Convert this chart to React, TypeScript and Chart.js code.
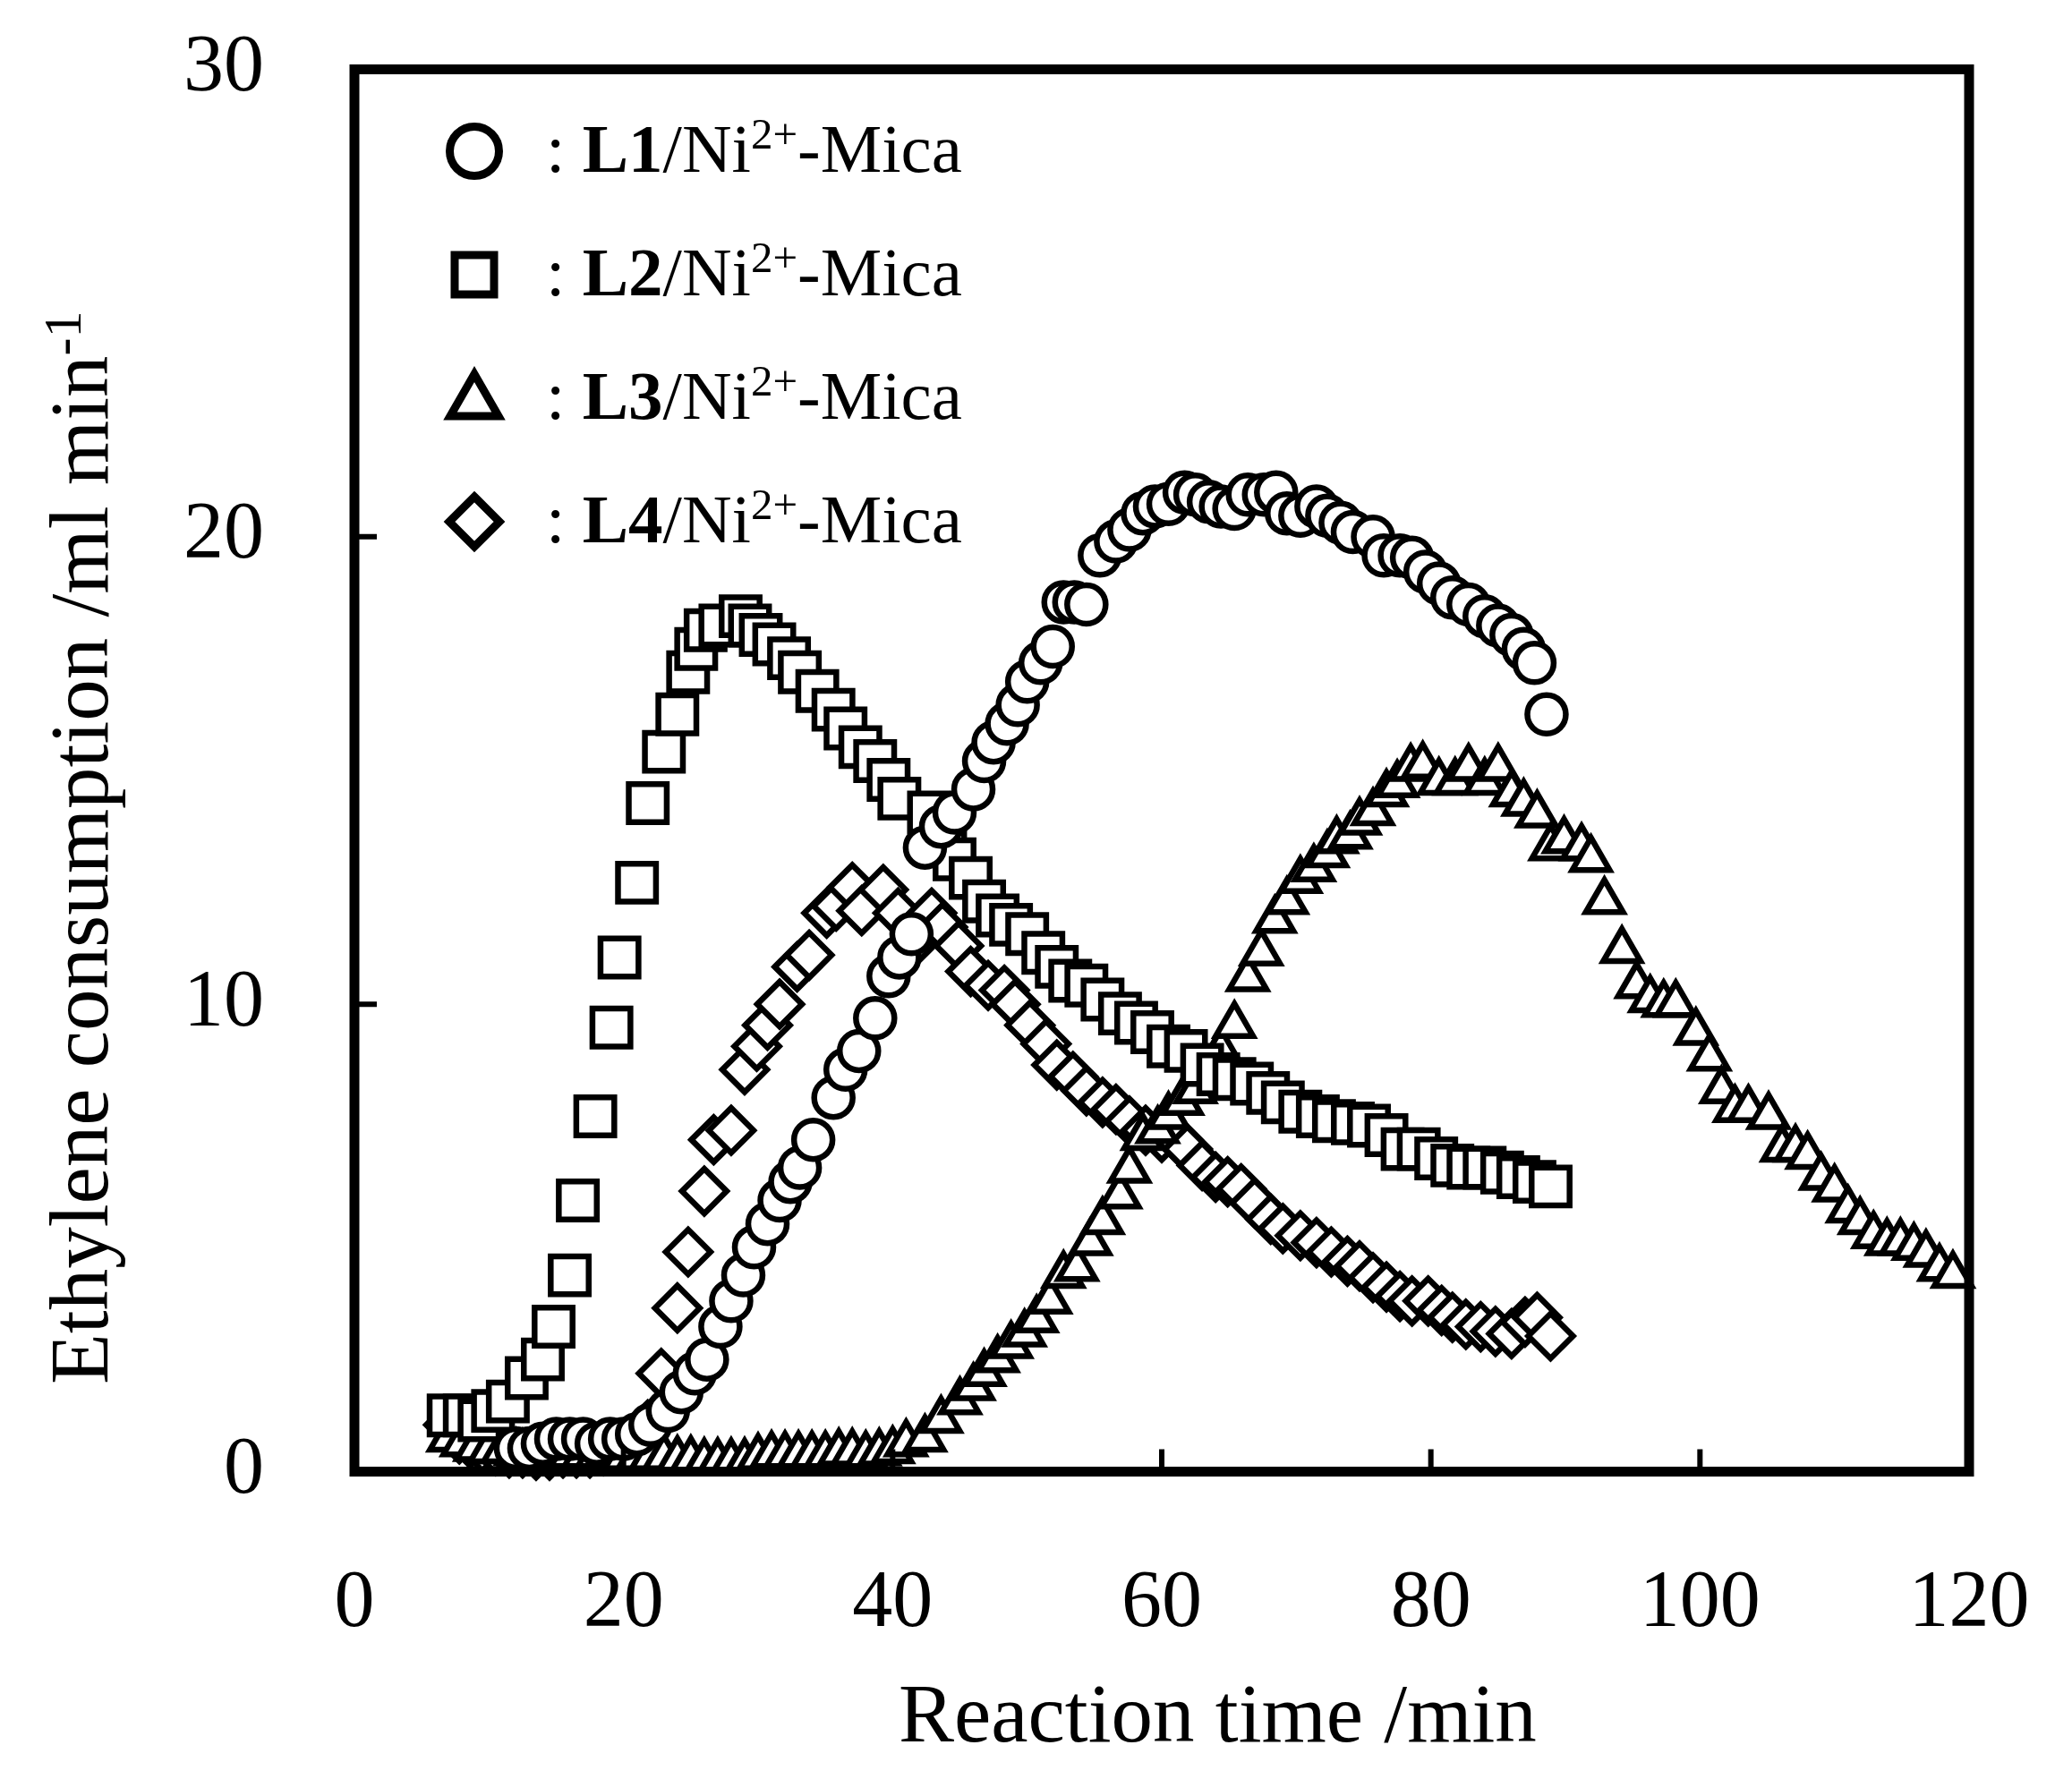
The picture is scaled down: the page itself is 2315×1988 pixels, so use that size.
import { useEffect, useRef } from 'react';
import { Chart, registerables } from 'chart.js';

Chart.register(...registerables);

// [reaction time (min), ethylene consumption (ml/min)]
const L1_DATA: [number, number][] = [
  [12, 0.5], [13, 0.5], [14, 0.6], [15, 0.7], [16, 0.7], [17, 0.7], [18, 0.6], [19, 0.7],
  [20, 0.7], [21, 0.8], [22, 1.0], [23.3, 1.3], [24.3, 1.7], [25.3, 2.1], [26.2, 2.4],
  [27.2, 3.1], [28.0, 3.65], [28.9, 4.2], [29.7, 4.8], [30.7, 5.3], [31.6, 5.8], [32.4, 6.2],
  [33.1, 6.5], [34.1, 7.1], [35.6, 8.0], [36.5, 8.6], [37.5, 9.0], [38.7, 9.7], [39.7, 10.6],
  [40.5, 11.0], [41.4, 11.5], [42.4, 13.35], [43.6, 13.8], [44.6, 14.1], [46.0, 14.6],
  [46.8, 15.2], [47.5, 15.6], [48.5, 16.0], [49.3, 16.4], [50.0, 16.9], [51.0, 17.3],
  [51.9, 17.65], [52.7, 18.6], [53.5, 18.6], [54.4, 18.55], [55.4, 19.6], [56.6, 19.9],
  [57.6, 20.15], [58.6, 20.5], [59.5, 20.65], [60.5, 20.7], [61.7, 20.95], [62.5, 20.9],
  [63.5, 20.75], [64.4, 20.65], [65.4, 20.6], [66.4, 20.9], [67.6, 20.9], [68.5, 20.95],
  [69.3, 20.5], [70.3, 20.45], [71.5, 20.65], [72.3, 20.45], [73.3, 20.3], [74.2, 20.1],
  [75.7, 20.0], [76.5, 19.6], [77.7, 19.6], [78.6, 19.55], [79.6, 19.25], [80.6, 19.0],
  [81.6, 18.7], [82.8, 18.55], [84.0, 18.3], [85.0, 18.1], [86.0, 17.9], [86.9, 17.6],
  [87.7, 17.3], [88.6, 16.2],
];

const L2_DATA: [number, number][] = [
  [7.0, 1.2], [8.2, 1.2], [9.3, 1.1], [10.3, 1.3], [11.4, 1.5], [12.8, 2.0], [14.0, 2.4],
  [14.8, 3.1], [16.0, 4.2], [16.6, 5.8], [17.9, 7.6], [19.1, 9.5], [19.7, 11.0], [21.0, 12.6],
  [21.8, 14.3], [23.0, 15.4], [24.0, 16.2], [24.8, 17.1], [25.4, 17.6], [26.1, 18.0],
  [27.2, 18.1], [28.7, 18.3], [29.4, 18.1], [30.2, 17.9], [31.2, 17.7], [32.3, 17.4],
  [33.1, 17.1], [34.4, 16.7], [35.6, 16.3], [36.5, 15.9], [37.6, 15.5], [38.7, 15.2],
  [39.7, 14.8], [40.5, 14.4], [42.7, 14.1], [43.9, 13.4], [44.6, 13.1], [45.8, 12.7],
  [46.8, 12.2], [47.8, 11.9], [48.8, 11.7], [50.0, 11.5], [51.2, 11.1], [52.2, 10.8],
  [53.2, 10.5], [54.4, 10.4], [55.6, 10.1], [56.9, 9.8], [58.1, 9.6], [59.3, 9.4],
  [60.5, 9.1], [61.8, 9.0], [63.0, 8.7], [64.2, 8.5], [65.4, 8.4], [66.7, 8.3], [67.9, 8.1],
  [69.0, 7.9], [70.3, 7.7], [71.6, 7.6], [72.8, 7.5], [74.2, 7.45], [75.4, 7.4], [76.7, 7.2],
  [77.9, 6.9], [79.1, 6.9], [80.4, 6.7], [81.6, 6.55], [82.8, 6.5], [84.0, 6.5], [85.3, 6.4],
  [86.5, 6.3], [87.7, 6.2], [88.9, 6.1],
];

const L3_DATA: [number, number][] = [
  [7, 0.7], [8, 0.6], [9, 0.5], [10, 0.45], [11, 0.45], [12, 0.4], [13, 0.35], [14, 0.35],
  [15, 0.35], [16, 0.35], [17, 0.35], [18, 0.35], [19, 0.35], [20, 0.3], [21, 0.3], [22, 0.3],
  [23, 0.3], [24, 0.25], [25, 0.25], [26, 0.2], [27, 0.2], [28, 0.2], [29, 0.2], [30, 0.3],
  [31, 0.35], [32, 0.35], [33, 0.35], [34, 0.35], [35, 0.35], [36, 0.4], [37, 0.4], [38, 0.35],
  [39, 0.4], [40, 0.45], [41, 0.6], [42.4, 0.7], [43.6, 1.1], [45.0, 1.5], [46.0, 1.8],
  [46.8, 2.1], [47.8, 2.4], [48.8, 2.7], [49.8, 2.95], [50.7, 3.25], [51.7, 3.65], [52.7, 4.2],
  [53.7, 4.35], [54.7, 4.9], [55.6, 5.35], [56.9, 5.9], [57.6, 6.45], [58.6, 7.15],
  [59.7, 7.3], [60.5, 7.6], [61.5, 7.9], [62.5, 8.15], [64.4, 9.0], [65.4, 9.55], [66.4, 10.55],
  [67.4, 11.1], [68.4, 11.8], [69.3, 12.2], [70.3, 12.65], [71.3, 12.9], [72.3, 13.2],
  [73.0, 13.5], [74.0, 13.6], [74.7, 13.9], [75.7, 14.1], [76.7, 14.5], [77.5, 14.7],
  [78.5, 15.05], [79.4, 15.1], [80.6, 14.75], [81.8, 14.75], [82.8, 15.05], [84.0, 14.75],
  [85.0, 15.05], [86.0, 14.5], [86.9, 14.3], [87.9, 14.05], [88.9, 13.35], [89.9, 13.5],
  [91.2, 13.35], [91.9, 13.1], [92.9, 12.2], [94.2, 11.15], [95.3, 10.4], [96.3, 10.1],
  [97.3, 10.0], [98.2, 10.0], [99.7, 9.4], [100.7, 8.85], [101.6, 8.15], [102.6, 7.75],
  [103.6, 7.75], [105.1, 7.6], [106.1, 6.9], [107.1, 6.9], [108.0, 6.75], [109.0, 6.3],
  [110.0, 6.05], [111.0, 5.6], [111.9, 5.35], [112.9, 5.05], [113.9, 4.9], [114.9, 4.9],
  [115.9, 4.8], [116.8, 4.65], [117.8, 4.35], [118.8, 4.2],
];

const L4_DATA: [number, number][] = [
  [7, 1.0], [7.8, 0.7], [8.6, 0.6], [9.5, 0.5], [10.5, 0.45], [11.5, 0.4], [12.5, 0.4],
  [13.5, 0.35], [14.5, 0.35], [15.5, 0.4], [16.5, 0.4], [17.5, 0.4], [18.5, 0.45], [19.5, 0.5],
  [20.4, 0.55], [21.8, 1.0], [22.8, 2.1], [24.0, 3.5], [24.8, 4.7], [26.0, 6.0], [26.7, 7.1],
  [28.0, 7.3], [29.0, 8.6], [29.9, 9.1], [30.7, 9.55], [31.6, 10.0], [32.9, 10.8],
  [33.8, 11.05], [35.1, 11.95], [35.8, 12.1], [37.0, 12.5], [37.7, 12.0], [39.3, 12.45],
  [40.4, 11.95], [41.4, 11.25], [42.9, 11.95], [43.7, 11.65], [44.9, 11.25], [45.8, 10.7],
  [47.1, 10.4], [48.3, 10.3], [49.1, 10.0], [50.2, 9.55], [51.4, 9.15], [52.2, 8.7],
  [53.4, 8.45], [54.4, 8.15], [55.6, 7.9], [56.6, 7.75], [57.6, 7.5], [58.8, 7.3],
  [60.0, 7.15], [61.2, 7.1], [61.9, 6.9], [63.0, 6.55], [64.0, 6.3], [64.9, 6.2], [65.9, 6.05],
  [66.9, 5.75], [68.1, 5.4], [69.0, 5.2], [70.3, 5.05], [71.5, 4.9], [72.6, 4.7], [73.8, 4.5],
  [74.7, 4.4], [75.7, 4.15], [76.7, 3.95], [77.7, 3.75], [78.6, 3.65], [79.8, 3.65],
  [80.8, 3.45], [81.6, 3.3], [82.6, 3.15], [83.7, 3.1], [84.8, 3.0], [86.0, 2.95],
  [87.0, 3.2], [87.9, 3.3], [88.9, 2.9],
];

const SERIES_NAMES = ['L1', 'L2', 'L3', 'L4'];
const X_TICKS = [0, 20, 40, 60, 80, 100, 120];
const Y_TICKS = [0, 10, 20, 30];
const X_TITLE = 'Reaction time /min';
const Y_TITLE = 'Ethylene consumption /ml min';
const Y_TITLE_SUP = '-1';

const FONT = '"Liberation Serif", "Times New Roman", serif';

type Part = { text: string; size: number; bold?: boolean; raise?: number };

// draw a run of text pieces side by side on one baseline
function drawParts(ctx: CanvasRenderingContext2D, x: number, y: number, parts: Part[]) {
  let cx = x;
  parts.forEach((p) => {
    ctx.font = `${p.bold ? 'bold ' : ''}${p.size}px ${FONT}`;
    ctx.fillText(p.text, cx, y - (p.raise ?? 0));
    cx += ctx.measureText(p.text).width;
  });
}

function drawLegendMarker(ctx: CanvasRenderingContext2D, shape: string, x: number, y: number) {
  ctx.beginPath();
  if (shape === 'circle') {
    ctx.arc(x, y, 27.5, 0, Math.PI * 2);
  } else if (shape === 'rect') {
    ctx.rect(x - 22, y - 22, 44, 44);
  } else if (shape === 'triangle') {
    ctx.moveTo(x, y - 27);
    ctx.lineTo(x + 27, y + 20);
    ctx.lineTo(x - 27, y + 20);
    ctx.closePath();
  } else {
    ctx.moveTo(x, y - 28);
    ctx.lineTo(x + 28, y);
    ctx.lineTo(x, y + 28);
    ctx.lineTo(x - 28, y);
    ctx.closePath();
  }
  ctx.stroke();
}

const figurePlugin = {
  id: 'figure',
  afterDatasetsDraw(chart: Chart) {
    const { ctx, chartArea: a, scales } = chart;
    ctx.save();
    ctx.strokeStyle = '#000';
    ctx.fillStyle = '#000';
    ctx.lineJoin = 'miter';

    // frame
    ctx.lineWidth = 11;
    ctx.strokeRect(a.left, a.top, a.right - a.left, a.bottom - a.top);

    // inward ticks
    ctx.lineWidth = 6;
    ctx.beginPath();
    X_TICKS.slice(1, -1).forEach((v) => {
      const px = scales.x.getPixelForValue(v);
      ctx.moveTo(px, a.bottom);
      ctx.lineTo(px, a.bottom - 25);
    });
    Y_TICKS.slice(1, -1).forEach((v) => {
      const py = scales.y.getPixelForValue(v);
      ctx.moveTo(a.left, py);
      ctx.lineTo(a.left + 25, py);
    });
    ctx.stroke();

    // legend
    const shapes = ['circle', 'rect', 'triangle', 'rectRot'];
    ctx.lineWidth = 9;
    ctx.textAlign = 'left';
    ctx.textBaseline = 'alphabetic';
    SERIES_NAMES.forEach((name, i) => {
      const base = 192 + i * 138;
      drawLegendMarker(ctx, shapes[i], 530, base - 23);
      drawParts(ctx, 610, base, [
        { text: ': ', size: 77 },
        { text: name, size: 77, bold: true },
        { text: '/Ni', size: 77 },
        { text: '2+', size: 49, raise: 26 },
        { text: '-Mica', size: 77 },
      ]);
    });

    // axis titles
    drawParts(ctx, 1004, 1946, [{ text: X_TITLE, size: 93 }]);
    ctx.translate(120, 1547);
    ctx.rotate(-Math.PI / 2);
    drawParts(ctx, 0, 0, [
      { text: Y_TITLE, size: 93 },
      { text: Y_TITLE_SUP, size: 60, raise: 30 },
    ]);
    ctx.restore();
  },
};

function makeDataset(data: [number, number][], style: string, radius: number) {
  return {
    data: data.map(([x, y]) => ({ x, y })),
    pointStyle: style,
    pointRadius: radius,
    pointBorderWidth: 6.5,
    pointBorderColor: '#000',
    pointBackgroundColor: '#fff',
    showLine: false,
    clip: false as const,
  };
}

export default function App() {
  const canvasRef = useRef<HTMLCanvasElement>(null);

  useEffect(() => {
    if (!canvasRef.current) return;
    const chart = new Chart(canvasRef.current, {
      type: 'scatter',
      data: {
        datasets: [
          makeDataset(L1_DATA, 'circle', 21.5),
          makeDataset(L2_DATA, 'rect', 30),
          makeDataset(L3_DATA, 'triangle', 24),
          makeDataset(L4_DATA, 'rectRot', 25),
        ],
      },
      options: {
        animation: false,
        responsive: true,
        maintainAspectRatio: false,
        devicePixelRatio: 1,
        layout: { padding: { left: 0, right: 115, top: 77.5, bottom: 143.5 } },
        plugins: { legend: { display: false }, tooltip: { enabled: false } },
        scales: {
          x: {
            type: 'linear',
            min: 0,
            max: 120,
            grid: { display: false, drawTicks: false },
            border: { display: false },
            ticks: {
              stepSize: 20,
              color: '#000',
              padding: 95,
              font: { family: FONT, size: 90 },
            },
            afterFit: (s: any) => {
              s.height = 200;
              s.paddingLeft = 0;
              s.paddingRight = 0;
            },
          },
          y: {
            type: 'linear',
            min: 0,
            max: 30,
            grid: { display: false, drawTicks: false },
            border: { display: false },
            ticks: {
              stepSize: 10,
              color: '#000',
              padding: 101,
              font: { family: FONT, size: 90 },
            },
            afterFit: (s: any) => {
              s.width = 396;
              s.paddingTop = 0;
              s.paddingBottom = 0;
            },
          },
        },
      },
      plugins: [figurePlugin],
    });
    return () => chart.destroy();
  }, []);

  return (
    <div
      style={{
        position: 'absolute',
        left: 0,
        top: 0,
        width: 2315,
        height: 1988,
        background: '#fff',
      }}
    >
      <canvas ref={canvasRef} />
    </div>
  );
}
